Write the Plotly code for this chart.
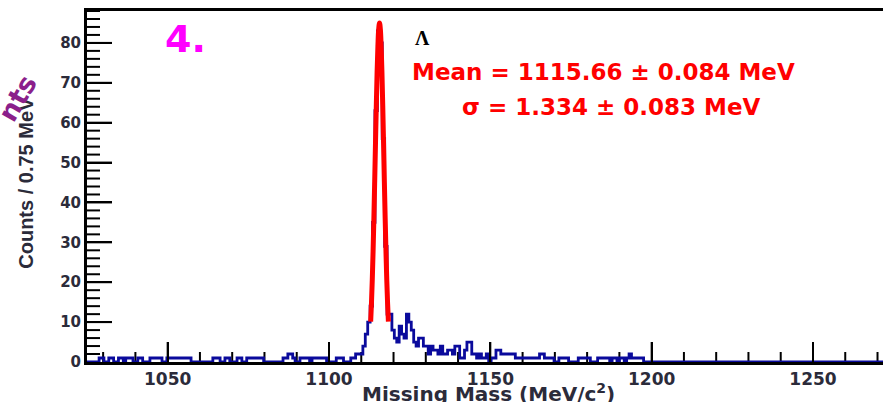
import numpy as np
import plotly.graph_objects as go

# ---------------- data ----------------
bin_width = 0.75
mass_min, mass_max = 1025.0, 1271.7
count_max = 88

# histogram segments: bins whose centre lies in [seg_lo, seg_hi) get seg_n counts
seg_lo = [1028.7, 1031.5, 1034.9, 1037.1, 1041.1, 1044.2, 1049.5, 1064.0, 1067.4, 1071.4,
          1074.2, 1085.7, 1087.5, 1088.8, 1091.3, 1095.0, 1102.0, 1106.5, 1108.2, 1110.5,
          1111.25, 1112.0, 1112.75, 1113.5, 1114.25, 1115.0, 1115.75, 1116.5, 1117.25, 1118.0,
          1118.75, 1119.5, 1120.25, 1121.0, 1121.75, 1122.5, 1123.25, 1124.0, 1124.75, 1125.5,
          1126.25, 1127.0, 1127.75, 1129.0, 1130.6, 1131.5, 1132.4, 1133.7, 1134.6, 1135.6,
          1136.8, 1138.3, 1139.2, 1140.2, 1141.7, 1143.0, 1143.9, 1145.5, 1146.4, 1147.6,
          1148.5, 1150.0, 1151.6, 1153.2, 1157.8, 1164.9, 1166.5, 1171.1, 1177.3, 1183.5,
          1187.8, 1190.3, 1192.5, 1193.3, 1194.1, 1195.6]
seg_hi = [1030.3, 1033.4, 1036.5, 1039.2, 1042.3, 1047.9, 1057.2, 1066.5, 1069.0, 1072.7,
          1079.5, 1087.5, 1088.8, 1089.5, 1093.7, 1099.6, 1104.6, 1108.2, 1110.5, 1111.25,
          1112.0, 1112.75, 1113.5, 1114.25, 1115.0, 1115.75, 1116.5, 1117.25, 1118.0, 1118.75,
          1119.5, 1120.25, 1121.0, 1121.75, 1122.5, 1123.25, 1124.0, 1124.75, 1125.5, 1126.25,
          1127.0, 1127.75, 1129.0, 1130.6, 1131.5, 1132.4, 1133.7, 1134.6, 1135.6, 1136.8,
          1138.3, 1139.2, 1140.2, 1141.7, 1143.0, 1143.9, 1145.5, 1146.4, 1147.6, 1148.5,
          1149.3, 1151.6, 1153.2, 1157.8, 1164.9, 1166.5, 1169.6, 1173.9, 1181.0, 1187.2,
          1189.4, 1191.3, 1193.3, 1194.1, 1195.0, 1197.4]
seg_n = [1, 1, 1, 1, 1, 1, 1, 1, 1, 1,
         1, 1, 2, 1, 1, 1, 1, 1, 2, 4,
         7, 10, 14, 35, 63, 83, 80, 56, 29, 12,
         12, 8, 6, 5, 9, 7, 6, 12, 10, 8,
         5, 4, 6, 4, 2, 4, 3, 2, 4, 2,
         3, 2, 4, 1, 3, 5, 2, 1, 2, 1,
         2, 1, 3, 2, 1, 2, 1, 1, 1, 1,
         1, 1, 1, 2, 1, 1]

# Gaussian fit curve (red)
fit_mass = [1112.91, 1113.16, 1113.41, 1113.66, 1113.91, 1114.16, 1114.41, 1114.66, 1114.91,
            1115.16, 1115.41, 1115.66, 1115.91, 1116.16, 1116.41, 1116.66, 1116.91, 1117.16,
            1117.41, 1117.66, 1117.91, 1118.16, 1118.41]
fit_counts = [10.1, 14.7, 20.5, 27.6, 36.0, 45.2, 54.8, 64.2, 72.6, 79.2, 83.5, 85.0,
              83.5, 79.2, 72.6, 64.2, 54.8, 45.2, 36.0, 27.6, 20.5, 14.7, 10.1]

x_tick_start, x_tick_step, x_minor_step = 1000, 50, 10
y_tick_start, y_tick_step, y_minor_step = 0, 10, 2

label_lambda = "Λ"
label_mean = "Mean = 1115.66 ± 0.084 MeV"
label_sigma = "σ = 1.334 ± 0.083 MeV"
label_panel = "4."
x_title = "Missing Mass (MeV/c<sup>2</sup>)"
y_title = "Counts / 0.75 MeV"

# ---------------- build histogram ----------------
n_bins = int(np.ceil((mass_max - mass_min) / bin_width))
edges = mass_min + bin_width * np.arange(n_bins + 1)
centers = edges[:-1] + bin_width / 2
counts = np.zeros(n_bins)
for lo, hi, n in zip(seg_lo, seg_hi, seg_n):
    counts[(centers >= lo) & (centers < hi)] = n

step_x = [float(e) for e in edges]
step_y = [float(c) for c in counts] + [float(counts[-1])]

FONT = "DejaVu Sans"
AX = "#2b2b3a"
W, H = 883, 402
ML, MR, MT, MB = 87, 0, 11, 40
plot_w, plot_h = W - ML - MR, H - MT - MB
x_per_px = (mass_max - mass_min) / plot_w
y_per_px = count_max / plot_h

fig = go.Figure()

# tick marks (inside), one small line trace per tick, on the axis scales
v = x_tick_start
while v <= mass_max:
    if v > mass_min:
        L = 20 if (v - x_tick_start) % x_tick_step == 0 else 10
        fig.add_trace(go.Scatter(x=[float(v), float(v)], y=[0.0, L * y_per_px], mode="lines",
                                 line=dict(color="black", width=2), hoverinfo="skip"))
    v += x_minor_step
v = y_tick_start
while v <= count_max:
    if v > 0:
        L = 25 if (v - y_tick_start) % y_tick_step == 0 else 13
        fig.add_trace(go.Scatter(x=[mass_min, mass_min + L * x_per_px], y=[float(v), float(v)], mode="lines",
                                 line=dict(color="black", width=2), hoverinfo="skip"))
    v += y_minor_step

fig.add_trace(go.Scatter(x=step_x, y=step_y, mode="lines", line=dict(color="#0a0a9c", width=2.8, shape="hv"),
                         hoverinfo="skip"))
fig.add_trace(go.Scatter(x=fit_mass, y=fit_counts, mode="lines", line=dict(color="#ff0000", width=5, shape="spline"),
                         hoverinfo="skip"))

fig.update_layout(
    width=W, height=H,
    margin=dict(l=ML, r=MR, t=MT, b=MB),
    paper_bgcolor="white", plot_bgcolor="white",
    showlegend=False,
    xaxis=dict(range=[mass_min, mass_max], showgrid=False, zeroline=False,
               showline=True, linecolor="black", linewidth=3, mirror=True,
               tickmode="linear", tick0=x_tick_start, dtick=x_tick_step,
               ticks="inside", ticklen=20, tickwidth=2, tickcolor="black",
               tickfont=dict(family=FONT, size=17, color=AX, weight="bold")),
    yaxis=dict(range=[0, count_max], showgrid=False, zeroline=False,
               showline=True, linecolor="black", linewidth=3, mirror=False,
               tickmode="linear", tick0=y_tick_start, dtick=y_tick_step,
               ticks="inside", ticklen=25, tickwidth=2, tickcolor="black",
               tickfont=dict(family=FONT, size=15, color=AX, weight="bold")),
)

ann = []
ann.append(dict(text=label_panel, x=1055.6, y=81.0, xref="x", yref="y", showarrow=False,
                font=dict(family=FONT, size=38, color="#ff00ff", weight="bold")))
ann.append(dict(text=label_lambda, x=1126.0, y=81.2, xref="x", yref="y", showarrow=False, xanchor="left",
                font=dict(family="Liberation Serif", size=20, color="black", weight="bold")))
ann.append(dict(text=label_mean, x=1125.2, y=72.8, xref="x", yref="y", showarrow=False, xanchor="left",
                font=dict(family=FONT, size=23, color="#ff0000", weight="bold")))
ann.append(dict(text=label_sigma, x=1140.7, y=64.0, xref="x", yref="y", showarrow=False, xanchor="left",
                font=dict(family=FONT, size=23, color="#ff0000", weight="bold")))
ann.append(dict(text=y_title, x=-0.0765, y=0.511, xref="paper", yref="paper", showarrow=False,
                xanchor="center", yanchor="middle",
                textangle=-90, font=dict(family="Liberation Sans", size=20, color=AX, weight="bold")))
ann.append(dict(text="nts", x=-0.088, y=0.752, xref="paper", yref="paper", showarrow=False,
                xanchor="center", yanchor="middle",
                textangle=-60, font=dict(family=FONT, size=27, color="#8b1f8b", weight="bold")))
ann.append(dict(text=x_title, x=0.505, y=-0.087, xref="paper", yref="paper", showarrow=False,
                xanchor="center", yanchor="middle", font=dict(family=FONT, size=20, color=AX, weight="bold")))
fig.update_layout(annotations=ann)

fig.write_html("out.html")
